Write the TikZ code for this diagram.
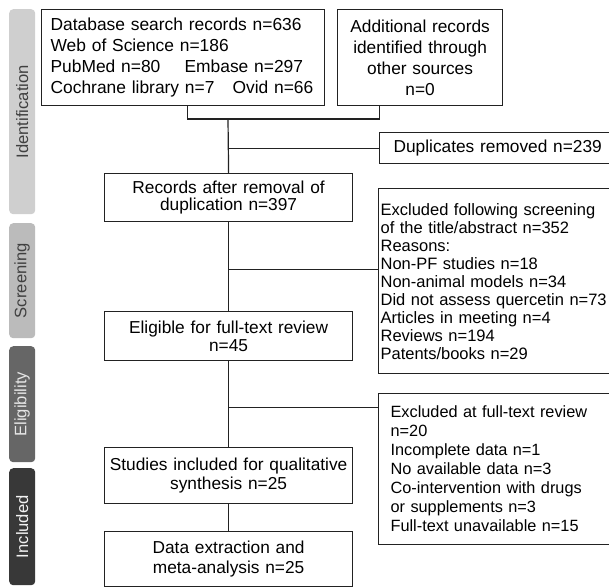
\documentclass[tikz,border=0pt]{standalone}
\usepackage{fontspec}
\setmainfont{Liberation Sans}
\definecolor{barA}{HTML}{CFCFCF}
\definecolor{barB}{HTML}{BBBBBB}
\definecolor{barC}{HTML}{666666}
\definecolor{barD}{HTML}{383838}
\definecolor{lineC}{HTML}{222222}
\begin{document}
\begin{tikzpicture}[x=1pt,y=-1pt,
  box/.style={draw=lineC, line width=1.2pt, anchor=north west, inner ysep=0pt,
    font=\fontsize{17.3}{18}\selectfont},
  mainbox/.style={box, minimum width=248pt, text width=240pt, inner xsep=4pt, align=center},
  bar/.style={rounded corners=4pt, anchor=north west, inner sep=0pt, minimum width=26pt},
  barlabel/.style={rotate=90, font=\fontsize{16.6}{18}\selectfont},
  link/.style={draw=lineC, line width=1.2pt}]
\useasboundingbox (0,0) rectangle (609,587);

% side bars
\node[bar, fill=barA, minimum height=205pt] (bid) at (9,9) {};
\node[bar, fill=barB, minimum height=115pt] (bsc) at (9,223) {};
\node[bar, fill=barC, minimum height=116pt] (bel) at (9,346) {};
\node[bar, fill=barD, minimum height=117pt] (bin) at (9,468) {};
\node[barlabel, text=black!75] (tid) at (bid.center) {Identification};
\node[barlabel, text=black!75] (tsc) at (bsc.center) {Screening};
\node[barlabel, text=white!90!black] (tel) at (bel.center) {Eligibility};
\node[barlabel, text=white!95!black] (tin) at (bin.center) {Included};

% boxes
\node[box, minimum width=283pt, minimum height=96pt, text width=265pt, inner xsep=9pt,
  align=left, font=\fontsize{17.4}{21}\selectfont] (db) at (41,9)
  {Database search records n=636\\
   Web of Science n=186\\
   \makebox[134pt][l]{PubMed n=80}Embase n=297\\
   \makebox[182pt][l]{Cochrane library n=7}Ovid n=66};
\node[box, minimum width=165pt, minimum height=96pt, text width=157pt, inner xsep=4pt,
  align=center, font=\fontsize{17.3}{21}\selectfont] (add) at (337,9)
  {Additional records\\identified through\\other sources\\n=0};
\node[box, minimum width=250pt, minimum height=31pt, text width=222pt, inner xsep=14pt,
  align=left] (dup) at (379,132) {Duplicates removed n=239};
\node[mainbox, minimum height=48pt, font=\fontsize{17.3}{17.5}\selectfont] (rec) at (104,173)
  {Records after removal of\\duplication n=397};
\node[box, minimum width=250pt, minimum height=185pt, text width=246pt, inner xsep=2pt,
  align=left, font=\fontsize{16.5}{18}\selectfont] (ex1) at (378,188)
  {Excluded following screening\\
   of the title/abstract n=352\\
   Reasons:\\
   Non-PF studies n=18\\
   Non-animal models n=34\\
   Did not assess quercetin n=73\\
   Articles in meeting n=4\\
   Reviews n=194\\
   Patents/books n=29};
\node[mainbox, minimum height=49pt] (elig) at (104,311)
  {Eligible for full-text review\\n=45};
\node[box, minimum width=250pt, minimum height=151pt, text width=226pt, inner xsep=12pt,
  align=left, font=\fontsize{16.3}{19}\selectfont] (ex2) at (378,393)
  {Excluded at full-text review\\
   n=20\\
   Incomplete data n=1\\
   No available data n=3\\
   Co-intervention with drugs\\
   or supplements n=3\\
   Full-text unavailable n=15};
\node[mainbox, minimum height=56pt, font=\fontsize{17.3}{19}\selectfont] (stud) at (104,447)
  {Studies included for qualitative\\synthesis n=25};
\node[mainbox, minimum height=55pt, font=\fontsize{17.3}{20}\selectfont] (data) at (104,531)
  {Data extraction and\\meta-analysis n=25};

% connectors
\coordinate (m1) at (228,119);
\draw[link] ([xshift=4.5pt]db.south) |- (m1) -| ([xshift=-40.5pt]add.south);
\draw[link] (m1) -- (rec.north);
\draw[link] (m1 |- dup.west) -- (dup.west);
\draw[link] (rec.south) -- (elig.north);
\draw[link] (rec.south |- ex1.west) ++(0,-11.5) coordinate (b1) -- (b1 -| ex1.west);
\draw[link] (elig.south) -- (stud.north);
\draw[link] (elig.south |- ex2.west) ++(0,-61.5) coordinate (b2) -- (b2 -| ex2.west);
\draw[link] (stud.south) -- (data.north);
\end{tikzpicture}
\end{document}
